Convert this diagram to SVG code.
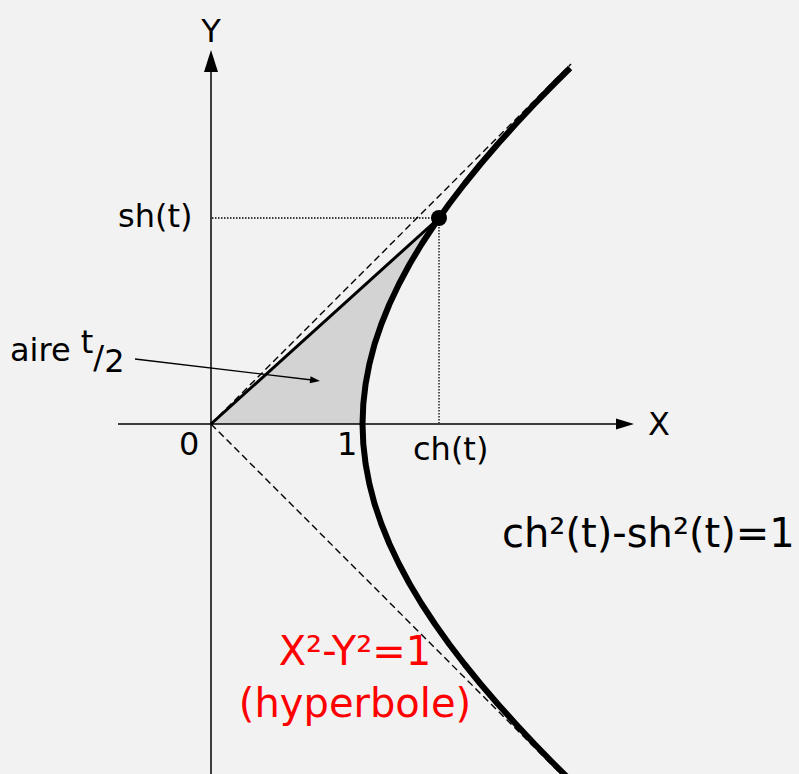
<svg xmlns="http://www.w3.org/2000/svg" width="799" height="774" viewBox="0 0 799 774">
<style>
text{font-family:"DejaVu Sans","Liberation Sans",sans-serif;fill:#000}
.s{font-size:32px}
.b{font-size:40px}
.red{fill:#ff0000}
.axis{stroke:#000;stroke-width:1.5;fill:none}
.dash{stroke:#000;stroke-width:1.4;stroke-dasharray:7,4;fill:none}
.dot{stroke:#000;stroke-width:1.3;stroke-dasharray:1.5,1.5;fill:none}
</style>
<rect width="799" height="774" fill="#f2f2f2"/>
<g id="area">
<path d="M211 424 L439 218 L434.9 224 L421.7 244 L409.7 264 L399 284 L389.5 304 L381.4 324 L374.6 344 L369.4 364 L365.6 384 L363.3 404 L362.5 424 Z" fill="#d3d3d3"/>
</g>
<g id="connectors">
<line class="axis" x1="118" y1="424" x2="620" y2="424"/>
<polygon points="634,424 616,418.5 616,429.5" fill="#000"/>
<line class="axis" x1="211" y1="774" x2="211" y2="70"/>
<polygon points="211,50 204,72 218,72" fill="#000"/>
<line class="dash" x1="211" y1="424" x2="571" y2="64"/>
<line class="dash" x1="211" y1="424" x2="566" y2="779"/>
<line class="dot" x1="212" y1="218" x2="439" y2="218"/>
<line class="dot" x1="439" y1="218" x2="439" y2="423"/>
<line x1="211" y1="424" x2="439" y2="218" stroke="#000" stroke-width="3"/>
<line x1="135" y1="359" x2="312" y2="380" stroke="#000" stroke-width="1.3"/>
<polygon points="320,381 309.7,383.3 310.5,376.3" fill="#000"/>
</g>
<g id="hyperbole">
<path d="M570.1 68 L554 84 L534.5 104 L515.8 124 L497.8 144 L480.6 164 L464.4 184 L449.1 204 L434.9 224 L421.7 244 L409.7 264 L399 284 L389.5 304 L381.4 324 L374.6 344 L369.4 364 L365.6 384 L363.3 404 L362.5 424 L363.3 444 L365.6 464 L369.4 484 L374.6 504 L381.4 524 L389.5 544 L399 564 L409.7 584 L421.7 604 L434.9 624 L449.1 644 L464.4 664 L480.6 684 L497.8 704 L515.8 724 L534.5 744 L554 764 L570.1 780" fill="none" stroke="#000" stroke-width="6" stroke-linejoin="round"/>
</g>
<g id="point">
<circle cx="439" cy="218" r="8" fill="#000"/>
</g>
<g id="labels">
<text class="s" x="211" y="42" text-anchor="middle">Y</text>
<text class="s" x="648" y="435">X</text>
<text class="s" x="118" y="227">sh(t)</text>
<text class="s" x="179" y="455">0</text>
<text class="s" x="337" y="455">1</text>
<text class="s" x="413" y="460">ch(t)</text>
<text class="s" x="10" y="361">aire <tspan dy="-8">t</tspan><tspan dy="15">/</tspan><tspan dy="4">2</tspan></text>
<text class="b" x="502" y="547">ch²(t)-sh²(t)=1</text>
<text class="b red" x="355" y="665" text-anchor="middle">X²-Y²=1</text>
<text class="b red" x="355" y="717" text-anchor="middle">(hyperbole)</text>
</g>
</svg>
